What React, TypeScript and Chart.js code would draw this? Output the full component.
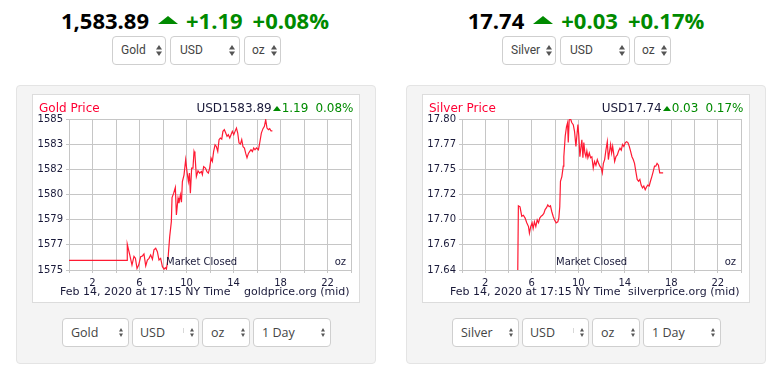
import React, { useEffect, useRef } from 'react';
import { Chart, registerables } from 'chart.js';

Chart.register(...registerables);

// ---------- data ----------
const hourTicks = [0, 2, 4, 6, 8, 10, 12, 14, 16, 18, 20, 22, 24];
const hourTickLabels = ['', '2', '', '6', '', '10', '', '14', '', '18', '', '22', ''];

const goldTickValues = [1575, 1576.6667, 1578.3333, 1580, 1581.6667, 1583.3333, 1585];
const goldTickLabels = ['1575', '1577', '1579', '1580', '1582', '1583', '1585'];

const silverTickValues = [17.64, 17.66667, 17.69333, 17.72, 17.74667, 17.77333, 17.8];
const silverTickLabels = ['17.64', '17.67', '17.70', '17.72', '17.75', '17.77', '17.80'];

const goldHours = [
  0, 4.94, 4.96, 5.17, 5.36, 5.53, 5.65, 5.79, 5.93, 6.1, 6.25, 6.38, 6.53, 6.67, 6.81, 6.95,
  7.1, 7.23, 7.38, 7.52, 7.66, 7.8, 7.95, 8.09, 8.2, 8.29, 8.43, 8.57, 8.71, 8.77, 8.91, 9.05,
  9.14, 9.28, 9.36, 9.48, 9.57, 9.65, 9.79, 9.93, 10.04, 10.16, 10.25, 10.33, 10.44, 10.55,
  10.64, 10.72, 10.84, 10.98, 11.12, 11.27, 11.35, 11.46, 11.61, 11.74, 11.86, 11.97, 12.09,
  12.2, 12.31, 12.43, 12.54, 12.66, 12.77, 12.88, 13.0, 13.1, 13.22, 13.34, 13.45, 13.56,
  13.68, 13.79, 13.9, 14.02, 14.13, 14.25, 14.36, 14.47, 14.59, 14.7, 14.81, 14.93, 15.04,
  15.15, 15.27, 15.38, 15.49, 15.61, 15.72, 15.83, 15.95, 16.12, 16.23, 16.37, 16.51, 16.63,
  16.74, 16.85, 16.97, 17.08, 17.19, 17.31,
];
const goldPrices = [
  1575.64, 1575.64, 1576.7, 1576.0, 1575.33, 1575.9, 1575.78, 1575.1, 1575.33, 1575.88,
  1575.93, 1576.06, 1575.27, 1575.66, 1575.77, 1576.0, 1575.71, 1576.33, 1576.44, 1576.21,
  1575.66, 1575.77, 1575.22, 1575.06, 1575.15, 1575.06, 1575.77, 1577.21, 1578.2, 1579.8,
  1580.09, 1580.46, 1578.65, 1579.76, 1579.43, 1579.98, 1579.49, 1580.86, 1581.3, 1582.3,
  1581.52, 1580.86, 1581.42, 1580.09, 1581.75, 1581.75, 1582.85, 1582.63, 1581.19, 1581.57,
  1581.42, 1581.52, 1581.32, 1581.85, 1581.75, 1581.52, 1581.42, 1581.75, 1582.41, 1582.19,
  1582.85, 1583.29, 1583.18, 1582.85, 1583.63, 1583.74, 1583.67, 1584.18, 1584.29, 1584.07,
  1583.85, 1583.96, 1583.74, 1583.96, 1584.18, 1583.96, 1584.18, 1584.4, 1584.07, 1583.41,
  1583.34, 1583.63, 1583.16, 1583.08, 1582.72, 1582.43, 1582.72, 1582.85, 1582.96, 1582.85,
  1583.08, 1582.96, 1583.08, 1582.96, 1583.41, 1584.07, 1584.36, 1584.51, 1584.95, 1584.4,
  1584.29, 1584.36, 1584.22, 1584.22,
];

const silverHours = [
  4.79, 4.85, 4.99, 5.14, 5.28, 5.43, 5.57, 5.72, 5.8, 5.91, 6.03, 6.12, 6.23, 6.35, 6.47,
  6.58, 6.69, 6.81, 6.92, 7.04, 7.15, 7.27, 7.38, 7.5, 7.61, 7.72, 7.84, 7.96, 8.1, 8.24,
  8.33, 8.41, 8.47, 8.59, 8.71, 8.76, 8.88, 8.99, 9.08, 9.14, 9.22, 9.34, 9.45, 9.57, 9.68,
  9.8, 9.88, 9.97, 10.05, 10.14, 10.22, 10.31, 10.4, 10.48, 10.57, 10.66, 10.74, 10.83,
  10.95, 11.06, 11.17, 11.29, 11.4, 11.52, 11.64, 11.75, 11.86, 11.98, 12.07, 12.16, 12.27,
  12.38, 12.5, 12.59, 12.67, 12.78, 12.87, 12.96, 13.04, 13.13, 13.24, 13.36, 13.47, 13.59,
  13.7, 13.81, 13.92, 14.05, 14.16, 14.27, 14.39, 14.5, 14.62, 14.73, 14.84, 14.96, 15.07,
  15.19, 15.3, 15.41, 15.53, 15.64, 15.76, 15.87, 15.98, 16.1, 16.21, 16.33, 16.44, 16.56,
  16.67, 16.78, 16.9, 17.01, 17.13, 17.3,
];
const silverPrices = [
  17.63, 17.708, 17.707, 17.697, 17.698, 17.695, 17.69, 17.686, 17.679, 17.686, 17.69,
  17.684, 17.691, 17.686, 17.693, 17.69, 17.695, 17.697, 17.698, 17.7, 17.704, 17.706,
  17.709, 17.707, 17.708, 17.702, 17.697, 17.693, 17.69, 17.691, 17.695, 17.707, 17.734,
  17.739, 17.75, 17.76, 17.782, 17.792, 17.796, 17.775, 17.799, 17.8, 17.796, 17.794,
  17.787, 17.771, 17.782, 17.794, 17.782, 17.76, 17.769, 17.778, 17.759, 17.775, 17.764,
  17.76, 17.766, 17.759, 17.764, 17.759, 17.76, 17.748, 17.755, 17.751, 17.757, 17.753,
  17.75, 17.748, 17.743, 17.753, 17.757, 17.767, 17.776, 17.757, 17.764, 17.773, 17.764,
  17.771, 17.764, 17.755, 17.76, 17.762, 17.766, 17.769, 17.767, 17.773, 17.771, 17.775,
  17.776, 17.775, 17.771, 17.766, 17.76, 17.757, 17.753, 17.744, 17.736, 17.734, 17.736,
  17.73, 17.727, 17.729, 17.725, 17.728, 17.73, 17.729, 17.734, 17.739, 17.744, 17.75,
  17.75, 17.753, 17.751, 17.743, 17.743, 17.743,
];

// ---------- styles ----------
const RED = '#ff1a33';
const GREEN = '#008a00';
const NAVY = '#1a1a3a';
const GRID = '#c6c6c6';
const CHART_FONT = 'DejaVu Sans';

type ChartProps = {
  left: number;
  top: number;
  hours: number[];
  prices: number[];
  tickValues: number[];
  tickLabels: string[];
  yWidth: number;
};

function PriceChart({ left, top, hours, prices, tickValues, tickLabels, yWidth }: ChartProps) {
  const ref = useRef<HTMLCanvasElement>(null);
  useEffect(() => {
    const chart = new Chart(ref.current as HTMLCanvasElement, {
      type: 'line',
      data: {
        datasets: [
          {
            data: hours.map((h, i) => ({ x: h, y: prices[i] })),
            borderColor: RED,
            borderWidth: 1.2,
            pointRadius: 0,
            tension: 0,
            fill: false,
          },
        ],
      },
      options: {
        animation: false,
        responsive: false,
        maintainAspectRatio: false,
        devicePixelRatio: 1,
        layout: { padding: { left: 0, right: 9, top: 24, bottom: 0 } },
        plugins: { legend: { display: false }, tooltip: { enabled: false }, title: { display: false } },
        scales: {
          x: {
            type: 'linear',
            min: 0,
            max: 24,
            afterBuildTicks: (s: any) => {
              s.ticks = hourTicks.map((v) => ({ value: v }));
            },
            afterFit: (s: any) => {
              s.height = 32;
            },
            ticks: {
              autoSkip: false,
              maxRotation: 0,
              padding: 4,
              color: NAVY,
              font: { family: CHART_FONT, size: 10 },
              callback: (_v: any, i: number) => hourTickLabels[i],
            },
            grid: { color: GRID, tickLength: 3, lineWidth: 1 },
            border: { color: GRID },
          },
          y: {
            type: 'linear',
            min: tickValues[0],
            max: tickValues[tickValues.length - 1],
            afterBuildTicks: (s: any) => {
              s.ticks = tickValues.map((v) => ({ value: v }));
            },
            afterFit: (s: any) => {
              s.width = yWidth;
            },
            ticks: {
              autoSkip: false,
              padding: 3,
              color: NAVY,
              font: { family: CHART_FONT, size: 10 },
              callback: (_v: any, i: number) => tickLabels[i],
            },
            grid: { color: GRID, tickLength: 3, lineWidth: 1 },
            border: { color: GRID },
          },
        },
      } as any,
    });
    return () => chart.destroy();
  }, []);
  return (
    <canvas
      ref={ref}
      width={328}
      height={207}
      style={{ position: 'absolute', left, top, width: 328, height: 207 }}
    />
  );
}

function Arrows({ w, h, color }: { w: number; h: number; color: string }) {
  const half = h / 2;
  return (
    <svg width={w} height={h} viewBox={`0 0 ${w} ${h}`} style={{ display: 'block' }}>
      <polygon points={`0,${half - 1} ${w / 2},0 ${w},${half - 1}`} fill={color} />
      <polygon points={`0,${half + 1} ${w / 2},${h} ${w},${half + 1}`} fill={color} />
    </svg>
  );
}

type SelProps = {
  left: number;
  top: number;
  width: number;
  height: number;
  text: string;
  pad: number;
  font: string;
  size: number;
  arrowW: number;
  arrowH: number;
  arrowRight: number;
};

function Sel({ left, top, width, height, text, pad, font, size, arrowW, arrowH, arrowRight }: SelProps) {
  return (
    <div
      style={{
        position: 'absolute',
        left,
        top,
        width,
        height,
        boxSizing: 'border-box',
        border: '1px solid #cfcfcf',
        borderRadius: 4,
        background: '#fff',
      }}
    >
      <div
        style={{
          position: 'absolute',
          left: pad - 1,
          top: 0,
          lineHeight: `${height - 2}px`,
          fontFamily: font,
          fontSize: size,
          color: '#444',
          whiteSpace: 'nowrap',
        }}
      >
        {text}
      </div>
      <div style={{ position: 'absolute', right: arrowRight - 1, top: (height - 2 - arrowH) / 2 }}>
        <Arrows w={arrowW} h={arrowH} color="#555" />
      </div>
    </div>
  );
}

type PanelProps = {
  dx: number;
  headerLeft: number;
  price: string;
  change: string;
  pct: string;
  metal: string;
  title: string;
  usd: string;
  chChange: string;
  chPct: string;
  site: string;
  hours: number[];
  prices: number[];
  tickValues: number[];
  tickLabels: string[];
  yWidth: number;
};

function Panel(p: PanelProps) {
  const dx = p.dx;
  const txt = { position: 'absolute' as const, fontFamily: CHART_FONT, color: NAVY, whiteSpace: 'nowrap' as const };
  return (
    <>
      {/* big header */}
      <div
        style={{
          position: 'absolute',
          left: p.headerLeft,
          top: 5,
          width: 390,
          display: 'flex',
          justifyContent: 'center',
          alignItems: 'center',
          fontFamily: 'Open Sans',
          fontWeight: 700,
          fontSize: 22,
          lineHeight: '30px',
          whiteSpace: 'nowrap',
        }}
      >
        <span style={{ color: '#000' }}>{p.price}</span>
        <span
          style={{
            display: 'inline-block',
            width: 0,
            height: 0,
            marginLeft: 9,
            marginRight: 8,
            borderLeft: '10px solid transparent',
            borderRight: '10px solid transparent',
            borderBottom: `8px solid ${GREEN}`,
          }}
        />
        <span style={{ color: GREEN }}>{p.change}</span>
        <span style={{ color: GREEN, marginLeft: 10 }}>{p.pct}</span>
      </div>

      {/* top selects */}
      <Sel left={112 + dx} top={36} width={54} height={29} text={p.metal} pad={9} font="Roboto" size={12} arrowW={6} arrowH={11} arrowRight={4} />
      <Sel left={170 + dx} top={36} width={70} height={29} text="USD" pad={10} font="Roboto" size={12} arrowW={6} arrowH={11} arrowRight={5} />
      <Sel left={244 + dx} top={36} width={37} height={29} text="oz" pad={8} font="Roboto" size={12} arrowW={6} arrowH={11} arrowRight={4} />

      {/* gray panel */}
      <div
        style={{
          position: 'absolute',
          left: 16 + dx,
          top: 85,
          width: 360,
          height: 279,
          boxSizing: 'border-box',
          background: '#f4f4f4',
          border: '1px solid #e4e4e4',
          borderRadius: 4,
        }}
      />
      {/* white chart box */}
      <div
        style={{
          position: 'absolute',
          left: 32 + dx,
          top: 94,
          width: 328,
          height: 209,
          boxSizing: 'border-box',
          background: '#fff',
          border: '1px solid #dcdcdc',
        }}
      />
      <PriceChart
        left={32 + dx}
        top={95}
        hours={p.hours}
        prices={p.prices}
        tickValues={p.tickValues}
        tickLabels={p.tickLabels}
        yWidth={p.yWidth}
      />

      {/* chart header */}
      <div style={{ ...txt, left: 39 + dx, top: 101, fontSize: 12, lineHeight: '14px', color: '#ff0033' }}>{p.title}</div>
      <div
        style={{
          ...txt,
          left: 140 + dx,
          top: 101,
          width: 213.5,
          fontSize: 12,
          lineHeight: '14px',
          display: 'flex',
          justifyContent: 'flex-end',
          alignItems: 'center',
        }}
      >
        <span>{p.usd}</span>
        <span
          style={{
            display: 'inline-block',
            width: 0,
            height: 0,
            marginLeft: 1,
            marginRight: 1,
            borderLeft: '4.5px solid transparent',
            borderRight: '4.5px solid transparent',
            borderBottom: `5px solid ${GREEN}`,
          }}
        />
        <span style={{ color: GREEN }}>{p.chChange}</span>
        <span style={{ color: GREEN, marginLeft: 7 }}>{p.chPct}</span>
      </div>

      {/* in-chart notes */}
      <div style={{ ...txt, left: 166 + dx, top: 256, fontSize: 10, lineHeight: '12px' }}>Market Closed</div>
      <div style={{ ...txt, left: 300 + dx, top: 256, width: 46, textAlign: 'right', fontSize: 10, lineHeight: '12px' }}>oz</div>

      {/* footer */}
      <div style={{ ...txt, left: 60 + dx, top: 285, fontSize: 11, lineHeight: '13px' }}>Feb 14, 2020 at 17:15 NY Time</div>
      <div style={{ ...txt, left: 200 + dx, top: 285, width: 149.5, textAlign: 'right', fontSize: 11, lineHeight: '13px' }}>{p.site}</div>

      {/* bottom selects */}
      <Sel left={62 + dx} top={318} width={67} height={29} text={p.metal} pad={9} font="Open Sans" size={12.5} arrowW={4} arrowH={9} arrowRight={6} />
      <Sel left={132 + dx} top={318} width={67} height={29} text="USD" pad={8} font="Open Sans" size={12.5} arrowW={4} arrowH={9} arrowRight={5} />
      <div style={{ position: 'absolute', left: 183 + dx, top: 328, width: 1, height: 5, background: '#d8d8d8' }} />
      <Sel left={202 + dx} top={318} width={48} height={29} text="oz" pad={9} font="Open Sans" size={12.5} arrowW={4} arrowH={9} arrowRight={5} />
      <Sel left={253 + dx} top={318} width={78} height={29} text="1 Day" pad={9} font="Open Sans" size={12.5} arrowW={4} arrowH={9} arrowRight={6} />
    </>
  );
}

export default function App() {
  return (
    <div style={{ position: 'absolute', left: 0, top: 0, width: 778, height: 374, background: '#fff', overflow: 'hidden' }}>
      <Panel
        dx={0}
        headerLeft={0}
        price="1,583.89"
        change="+1.19"
        pct="+0.08%"
        metal="Gold"
        title="Gold Price"
        usd="USD1583.89"
        chChange="1.19"
        chPct="0.08%"
        site="goldprice.org (mid)"
        hours={goldHours}
        prices={goldPrices}
        tickValues={goldTickValues}
        tickLabels={goldTickLabels}
        yWidth={37}
      />
      <Panel
        dx={390}
        headerLeft={391}
        price="17.74"
        change="+0.03"
        pct="+0.17%"
        metal="Silver"
        title="Silver Price"
        usd="USD17.74"
        chChange="0.03"
        chPct="0.17%"
        site="silverprice.org (mid)"
        hours={silverHours}
        prices={silverPrices}
        tickValues={silverTickValues}
        tickLabels={silverTickLabels}
        yWidth={40}
      />
    </div>
  );
}
